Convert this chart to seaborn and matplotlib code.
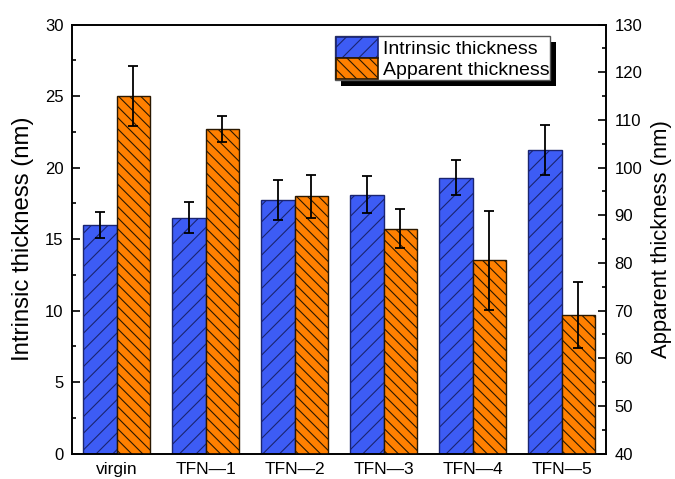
import matplotlib
matplotlib.use("Agg")
import matplotlib.pyplot as plt
from matplotlib.patches import Patch, Rectangle
from matplotlib.ticker import MultipleLocator
from matplotlib.transforms import IdentityTransform
import pandas as pd
import seaborn as sns

# Membrane thickness per sample
samples = ["virgin", "TFN—1", "TFN—2", "TFN—3", "TFN—4", "TFN—5"]
series = ["Intrinsic thickness", "Apparent thickness"]
intrinsic = [16.0, 16.5, 17.7, 18.1, 19.3, 21.2]
intrinsic_err = [0.9, 1.1, 1.4, 1.3, 1.2, 1.75]
apparent = [115.0, 108.1, 94.0, 87.2, 80.5, 69.1]
apparent_err = [6.2, 2.7, 4.5, 4.0, 10.3, 6.9]

sns.set_theme(style="ticks")
plt.rcParams["font.family"] = ["Liberation Sans", "DejaVu Sans"]
plt.rcParams["hatch.linewidth"] = 0.8
plt.rcParams["axes.linewidth"] = 1.2
for key in ("text.color", "axes.labelcolor", "xtick.color", "ytick.color",
            "axes.edgecolor"):
    plt.rcParams[key] = "black"

df_int = pd.DataFrame({"sample": samples, "value": intrinsic, "series": series[0]})
df_app = pd.DataFrame({"sample": samples, "value": apparent, "series": series[1]})

colors = {series[0]: "#3D5CF5", series[1]: "#FF8000"}
edges = {series[0]: "#1A2470", series[1]: "#2A1800"}
hatches = {series[0]: "//", series[1]: "\\\\\\"}

fig = plt.figure(figsize=(6.75, 4.79), dpi=100)
ax1 = fig.add_axes([0.1067, 0.0532, 0.7911, 0.8956])
ax2 = ax1.twinx()

# each series on its own axis, dodged into its own slot of the pair
sns.barplot(data=df_int, x="sample", y="value", hue="series", hue_order=series,
            order=samples, palette=colors, width=0.75, errorbar=None,
            dodge=True, saturation=1, legend=False, ax=ax1)
sns.barplot(data=df_app, x="sample", y="value", hue="series", hue_order=series,
            order=samples, palette=colors, width=0.75, errorbar=None,
            dodge=True, saturation=1, legend=False, ax=ax2)

for ax, name, vals, errs in [(ax1, series[0], intrinsic, intrinsic_err),
                             (ax2, series[1], apparent, apparent_err)]:
    bars = list(ax.patches)
    for p in bars:
        p.set_hatch(hatches[name])
        p.set_edgecolor(edges[name])
        p.set_linewidth(1.0)
    centers = [p.get_x() + p.get_width() / 2 for p in bars]
    ax.errorbar(centers, vals, yerr=errs, fmt="none", ecolor="black",
                elinewidth=1.3, capsize=3.5, capthick=1.3, zorder=4)

ax1.set_xlim(-0.5, 5.5)
ax1.set_ylim(0, 30)
ax2.set_ylim(40, 130)

ax1.yaxis.set_major_locator(MultipleLocator(5))
ax1.yaxis.set_minor_locator(MultipleLocator(2.5))
ax2.yaxis.set_major_locator(MultipleLocator(10))
ax2.yaxis.set_minor_locator(MultipleLocator(5))

ax1.tick_params(axis="y", which="major", direction="in", length=6, width=1.2,
                labelsize=12, left=True, right=False, pad=6)
ax1.tick_params(axis="y", which="minor", direction="in", length=3, width=1.2,
                left=True, right=False)
ax2.tick_params(axis="y", which="major", direction="in", length=6, width=1.2,
                labelsize=12, left=False, right=True, pad=6)
ax2.tick_params(axis="y", which="minor", direction="in", length=3, width=1.2,
                left=False, right=True)
ax1.tick_params(axis="x", length=0, labelsize=12.5, pad=6)

for ax in (ax1, ax2):
    for s in ax.spines.values():
        s.set_visible(True)
        s.set_color("black")
        s.set_linewidth(1.2)

ax1.set_xlabel("")
ax1.set_ylabel("Intrinsic thickness (nm)", fontsize=17.3, labelpad=8)
ax2.set_ylabel("Apparent thickness (nm)", fontsize=15.8, labelpad=6)

handles = [Patch(facecolor=colors[n], edgecolor=edges[n], hatch=hatches[n],
                 linewidth=1.2) for n in series]
leg = ax2.legend(handles, series, loc="upper left",
                 bbox_to_anchor=(0.4925, 0.973), fontsize=14,
                 labelspacing=0.0, handlelength=2.15, handleheight=1.3,
                 handletextpad=0.25, borderpad=0.05, borderaxespad=0,
                 fancybox=False, framealpha=1, edgecolor="#555555")
leg.get_frame().set_linewidth(1.0)
leg.set_zorder(6)

# solid drop shadow behind the legend box
fig.canvas.draw()
bb = leg.get_window_extent()
shadow = Rectangle((bb.x0 + 6, bb.y0 - 6), bb.width, bb.height,
                   transform=IdentityTransform(), facecolor="black",
                   edgecolor="none", zorder=5.5, clip_on=False)
ax2.add_artist(shadow)

fig.savefig("out.png", dpi=100)
